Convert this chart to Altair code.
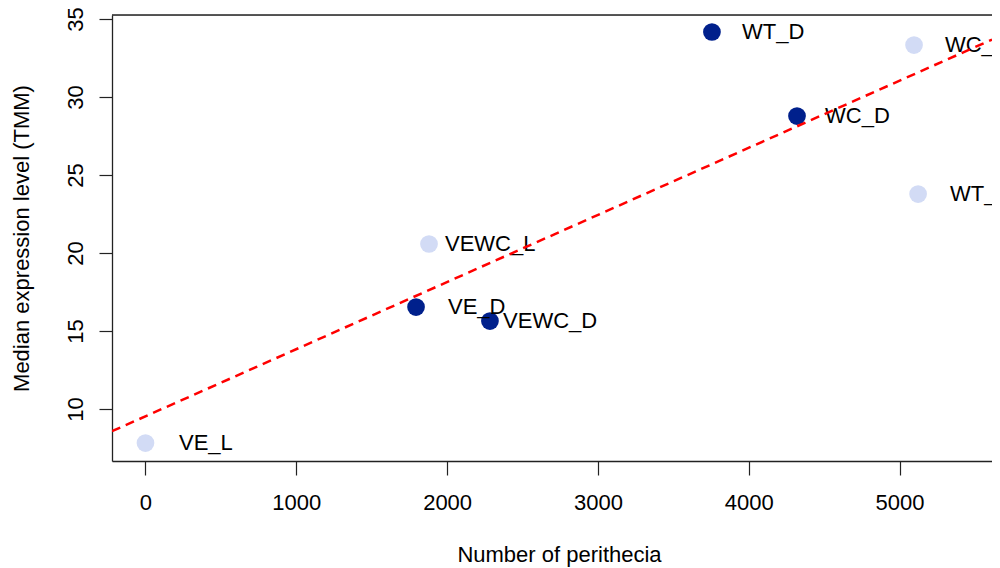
import altair as alt
import pandas as pd

labels = ["VE_L", "VEWC_L", "VE_D", "VEWC_D", "WT_D", "WC_D", "WC_L", "WT_L"]
perithecia = [0, 1880, 1794, 2284, 3756, 4320, 5096, 5123]
expression = [7.82, 20.58, 16.54, 15.64, 34.17, 28.78, 33.33, 23.78]
condition = ["L", "L", "D", "D", "D", "D", "L", "L"]
label_x = [222, 1986, 2006, 2371, 3955, 4506, 5301, 5334]

x_ticks = [0, 1000, 2000, 3000, 4000, 5000]
y_ticks = [10, 15, 20, 25, 30, 35]
x_domain = [-222, 5613]
y_domain = [6.67, 35.26]

df = pd.DataFrame({
    "label": labels,
    "x": perithecia,
    "y": expression,
    "cond": condition,
    "lx": label_x,
})

FONT = "Liberation Sans"
FS = 22
W, H = 880, 446

xscale = alt.Scale(domain=x_domain, nice=False, zero=False)
yscale = alt.Scale(domain=y_domain, nice=False, zero=False)

xaxis = alt.Axis(
    values=x_ticks, format="d", title="Number of perithecia",
    grid=False, tickSize=14, tickColor="#222", tickWidth=1.2,
    domainColor="#222", domainWidth=1.3,
    labelFontSize=FS, labelFont=FONT, labelColor="black",
    labelBaseline="alphabetic", labelPadding=34, labelFlush=False,
    titleFontSize=FS, titleFont=FONT, titleFontWeight="normal", titleColor="black",
    titleBaseline="alphabetic", titleX=447, titleY=100, titleAlign="center",
)
yaxis = alt.Axis(
    values=y_ticks, format="d", title="Median expression level (TMM)",
    grid=False, tickSize=13, tickColor="#222", tickWidth=1.2,
    domainColor="#222", domainWidth=1.3,
    labelFontSize=FS, labelFont=FONT, labelColor="black",
    labelAngle=270, labelAlign="center", labelBaseline="alphabetic",
    labelPadding=17, labelFlush=False,
    titleFontSize=FS, titleFont=FONT, titleFontWeight="normal", titleColor="black",
    titleAngle=270, titleBaseline="alphabetic", titleAlign="center",
    titleX=-84, titleY=H / 2,
)

base = alt.Chart(df)

points = base.mark_circle(size=314, opacity=1).encode(
    x=alt.X("x:Q", scale=xscale, axis=xaxis),
    y=alt.Y("y:Q", scale=yscale, axis=yaxis),
    color=alt.Color("cond:N", scale=alt.Scale(domain=["D", "L"], range=["#00208C", "#D2DBF5"]), legend=None),
)

texts = base.mark_text(
    align="left", baseline="middle", fontSize=FS, font=FONT, color="black", clip=True
).encode(
    x=alt.X("lx:Q", scale=xscale),
    y=alt.Y("y:Q", scale=yscale),
    text="label:N",
)

line = base.transform_regression("x", "y", extent=x_domain).mark_line(
    color="#FF0000", strokeDash=[9, 6], strokeWidth=2.5, clip=True
).encode(
    x=alt.X("x:Q", scale=xscale),
    y=alt.Y("y:Q", scale=yscale),
)

top = alt.Chart(pd.DataFrame({"a": [0]})).mark_rule(color="#222", strokeWidth=1.3).encode(
    x=alt.value(0), x2=alt.value(W), y=alt.value(0)
)

chart = alt.layer(points, texts, line, top).properties(
    width=W, height=H,
    padding={"left": 104, "top": 7, "right": 0, "bottom": 107},
    autosize=alt.AutoSizeParams(type="none"),
).configure_view(strokeWidth=0).configure(background="white")

chart.save("out.html", embed_options={"renderer": "svg", "actions": False})
